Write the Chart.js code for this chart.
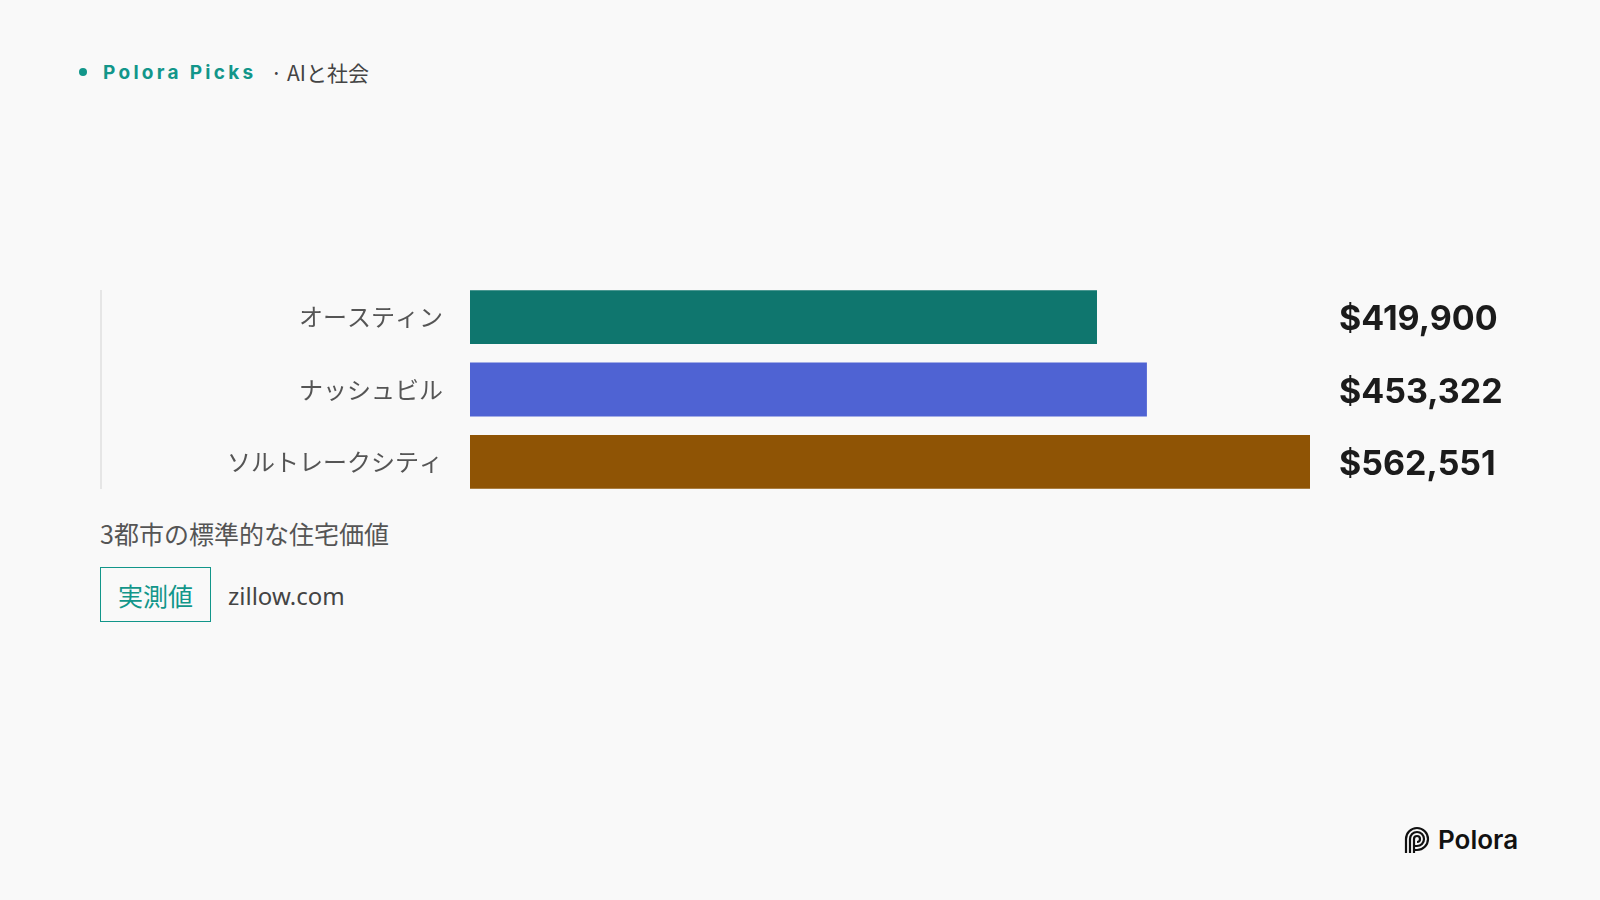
<!DOCTYPE html>
<html lang="ja">
<head>
<meta charset="utf-8">
<title>3都市の標準的な住宅価値</title>
<script src="https://cdn.jsdelivr.net/npm/chart.js@4.4.1/dist/chart.umd.min.js"></script>
<style>
  html, body { margin: 0; padding: 0; }
  body {
    width: 1600px; height: 900px; background: #f9f9f9; position: relative; overflow: hidden;
    font-family: "Noto Sans CJK JP", "Inter", sans-serif; color: #444;
  }
  .header { position: absolute; left: 79px; top: 58px; height: 28px; display: flex; align-items: center; }
  .dot { width: 8px; height: 8px; border-radius: 50%; background: #12968a; margin-right: 16px; }
  .brand { font-family: "Inter", sans-serif; font-weight: 700; font-size: 19px; letter-spacing: 3.3px; color: #12968a; }
  .topic { font-size: 21px; color: #444; margin-left: 14px; }
  .rule { position: absolute; left: 100px; top: 290px; width: 2px; height: 199px; background: #e6e6e6; }
  #wrap { position: absolute; left: 100px; top: 270px; width: 1420px; height: 240px; }
  .caption { position: absolute; left: 100px; top: 515px; font-size: 25px; color: #555; }
  .badge {
    position: absolute; left: 100px; top: 567px; width: 111px; height: 55px; box-sizing: border-box;
    border: 1.5px solid #12968a; color: #12968a; font-size: 25px;
    display: flex; align-items: center; justify-content: center;
  }
  .source { position: absolute; left: 228px; top: 579px; font-size: 24px; color: #444; font-family: "Noto Sans", "Roboto", sans-serif; }
  .logo { position: absolute; left: 1403px; top: 824px; display: flex; align-items: center; }
  .logo span { font-family: "Inter", sans-serif; font-weight: 600; font-size: 26px; color: #111; margin-left: 7px; }
</style>
</head>
<body>
  <div class="header">
    <div class="dot"></div>
    <div class="brand">Polora Picks</div>
    <div class="topic">· AIと社会</div>
  </div>

  <div class="rule"></div>
  <div id="wrap"><canvas id="chart"></canvas></div>

  <div class="caption">3都市の標準的な住宅価値</div>
  <div class="badge">実測値</div>
  <div class="source">zillow.com</div>

  <div class="logo">
    <svg width="28" height="28" viewBox="0 0 28 28" fill="none" stroke="#111" stroke-width="2.2">
      <path d="M3 27 V13 A11 11 0 1 1 14 24 H11" />
      <path d="M7 27 V13 A7 7 0 1 1 14 20 H11" />
      <path d="M11 27 V13 A3 3 0 1 1 14 16" />
    </svg>
    <span>Polora</span>
  </div>

<script>
const cities = ["オースティン", "ナッシュビル", "ソルトレークシティ"];
const homeValues = [419900, 453322, 562551];
const barColors = ["#0f766e", "#4f63d3", "#8f5405"];

// dollar amounts to the right of the plot area
const valueLabels = {
  id: "valueLabels",
  afterDatasetsDraw(chart) {
    const ctx = chart.ctx;
    const area = chart.chartArea;
    const meta = chart.getDatasetMeta(0);
    ctx.save();
    ctx.font = "700 34px Inter, sans-serif";
    ctx.fillStyle = "#1b1b1b";
    ctx.textAlign = "left";
    ctx.textBaseline = "middle";
    meta.data.forEach((bar, i) => {
      ctx.fillText("$" + homeValues[i].toLocaleString("en-US"), area.right + 29, bar.y + 3);
    });
    ctx.restore();
  }
};

new Chart(document.getElementById("chart"), {
  type: "bar",
  data: {
    labels: cities,
    datasets: [{
      data: homeValues,
      backgroundColor: barColors,
      borderWidth: 0,
      categoryPercentage: 1,
      barPercentage: 0.745
    }]
  },
  options: {
    indexAxis: "y",
    responsive: true,
    maintainAspectRatio: false,
    animation: false,
    layout: { padding: { top: 11, bottom: 12, right: 210, left: 0 } },
    plugins: { legend: { display: false }, tooltip: { enabled: false } },
    scales: {
      x: {
        display: false,
        min: 0,
        max: Math.max(...homeValues)
      },
      y: {
        grid: { display: false, drawTicks: false },
        border: { display: false },
        ticks: {
          color: "#555",
          padding: 27,
          font: { family: "'Noto Sans CJK JP', sans-serif", size: 24 }
        },
        afterFit(scale) {
          scale.width = 370;
          // tick padding should only push labels sideways
          scale.paddingTop = 0;
          scale.paddingBottom = 0;
        }
      }
    }
  },
  plugins: [valueLabels]
});
</script>
</body>
</html>
